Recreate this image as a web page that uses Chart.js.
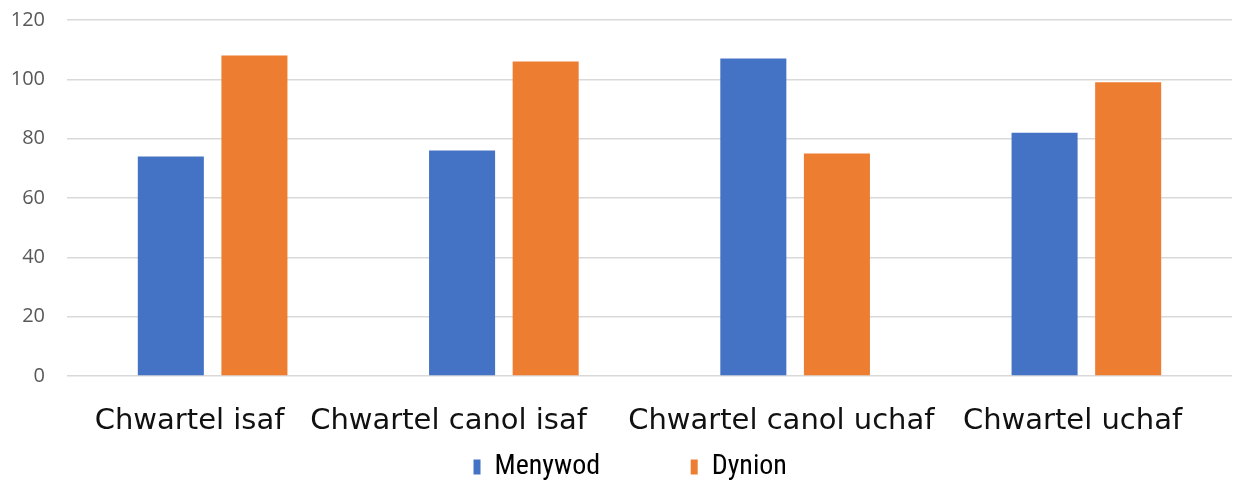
<!DOCTYPE html>
<html>
<head>
<meta charset="utf-8">
<script src="https://cdn.jsdelivr.net/npm/chart.js@4"></script>
<style>
  html, body { margin: 0; padding: 0; background: #fff; }
  #wrap { width: 1243px; height: 486px; }
</style>
</head>
<body>
<div id="wrap"><canvas id="chart"></canvas></div>
<script>
const BLUE = '#4472C4'
const ORANGE = '#ED7D31'
const GRID = '#d9d9d9'
const GRAY_TEXT = '#595959'

const categories = ['Chwartel isaf', 'Chwartel canol isaf', 'Chwartel canol uchaf', 'Chwartel uchaf']
const menywod = [74, 76, 107, 82]
const dynion = [108, 106, 75, 99]
const yTicks = [0, 20, 40, 60, 80, 100, 120]

// trailing spaces nudge each category label left, as in the original
const labelNudge = [5, 12, 3, 3]

new Chart(document.getElementById('chart'), {
  type: 'bar',
  data: {
    labels: categories,
    datasets: [
      {
        label: 'Menywod',
        data: menywod,
        backgroundColor: BLUE,
        barPercentage: 0.79,
        categoryPercentage: 0.574,
      },
      {
        label: 'Dynion',
        data: dynion,
        backgroundColor: ORANGE,
        barPercentage: 0.79,
        categoryPercentage: 0.574,
      },
    ],
  },
  options: {
    responsive: true,
    maintainAspectRatio: false,
    animation: false,
    layout: { padding: { top: 20, right: 11, left: 0, bottom: -5 } },
    scales: {
      x: {
        grid: { display: false },
        border: { display: false },
        ticks: {
          padding: 20,
          color: '#111',
          font: { family: "'DejaVu Sans', sans-serif", size: 29 },
          maxRotation: 0,
          autoSkip: false,
          callback: (v, i) => categories[i] + ' '.repeat(labelNudge[i]),
        },
        afterFit: (axis) => { axis.height = 70 },
      },
      y: {
        min: 0,
        max: 120,
        afterBuildTicks: (axis) => { axis.ticks = yTicks.map((v) => ({ value: v })) },
        grid: { color: GRID, lineWidth: 1.5, drawTicks: false },
        border: { display: false },
        ticks: {
          padding: 22,
          color: GRAY_TEXT,
          font: { family: "'Open Sans', sans-serif", size: 20 },
        },
        afterFit: (axis) => {
          axis.width = 67
          axis.paddingTop = 0
          axis.paddingBottom = 0
        },
      },
    },
    plugins: {
      legend: {
        display: true,
        position: 'bottom',
        fullSize: false,
        labels: {
          boxWidth: 7,
          boxHeight: 15,
          padding: 7,
          color: GRAY_TEXT,
          font: { family: "'Liberation Sans Narrow', 'Roboto Condensed', sans-serif", size: 28 },
          generateLabels: (chart) => chart.data.datasets.map((ds, i) => ({
            text: i === 0 ? ds.label + '             ' : ds.label + '      ',
            fillStyle: ds.backgroundColor,
            strokeStyle: ds.backgroundColor,
            lineWidth: 0,
            datasetIndex: i,
          })),
        },
      },
      tooltip: { enabled: false },
    },
  },
})
</script>
</body>
</html>
